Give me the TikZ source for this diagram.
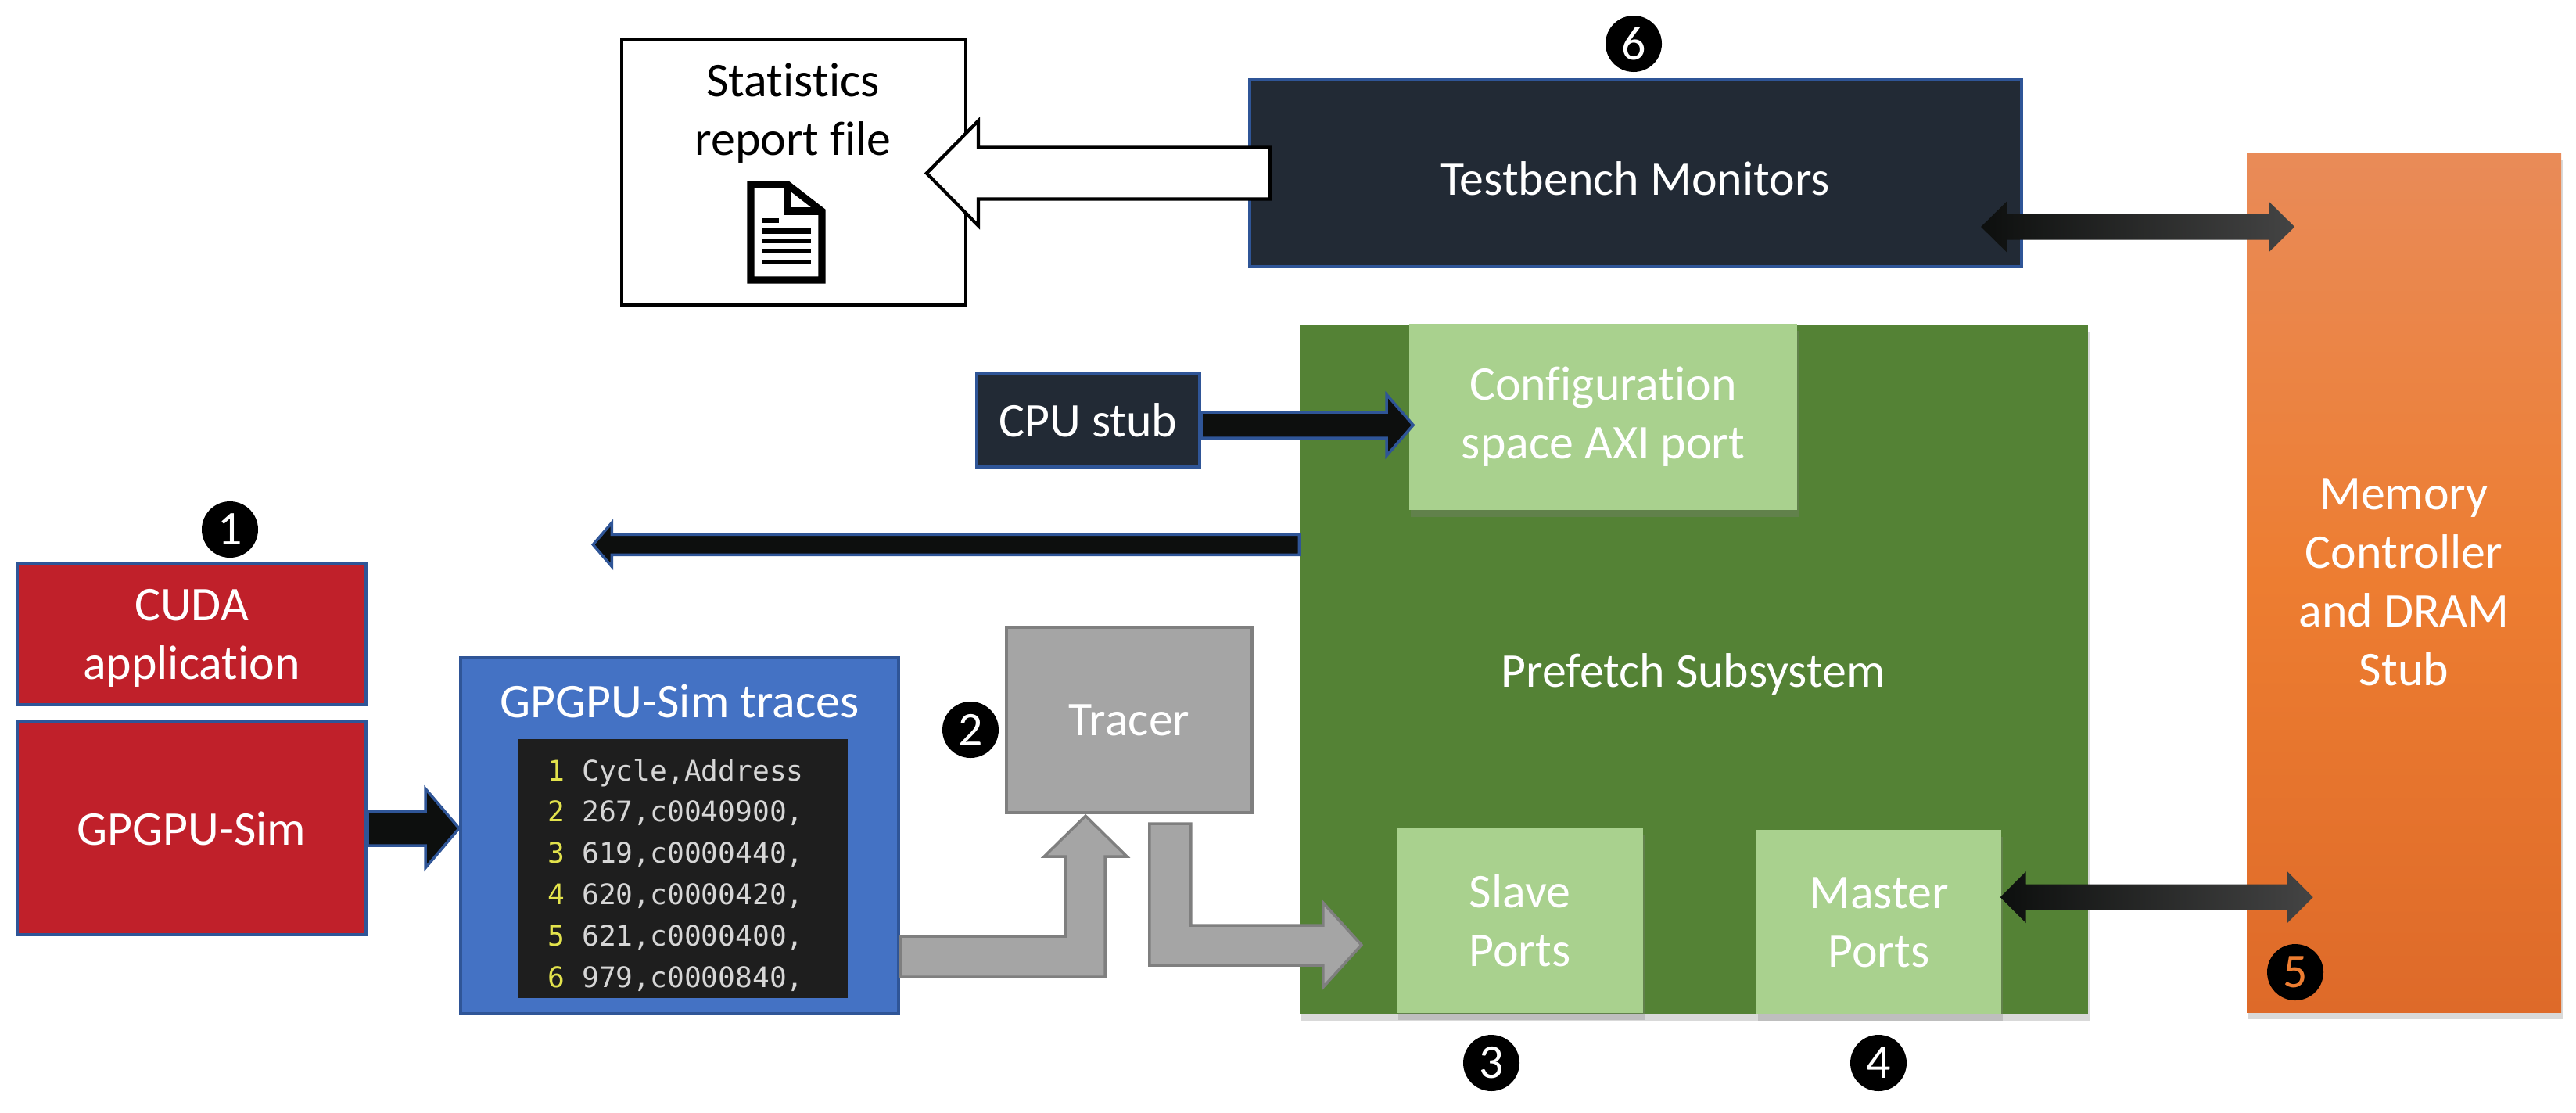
\documentclass[tikz,border=0pt]{standalone}
\usepackage{fontspec}
\setmainfont{Carlito}[Ligatures={NoCommon,NoRequired}]
\newfontfamily\codefont{DejaVu Sans Mono}
\usetikzlibrary{shadows,calc}
\definecolor{edgeblue}{HTML}{2F5597}
\definecolor{navy}{HTML}{222A35}
\definecolor{cudared}{HTML}{C0202A}
\definecolor{traceblue}{HTML}{4472C4}
\definecolor{codebg}{HTML}{1E1E1E}
\definecolor{codenum}{HTML}{E3E34C}
\definecolor{codetxt}{HTML}{D6D6D6}
\definecolor{tracegrey}{HTML}{A5A5A5}
\definecolor{tracegreyline}{HTML}{7F7F7F}
\definecolor{pfgreen}{HTML}{548235}
\definecolor{portgreen}{HTML}{A9D18E}
\definecolor{memtop}{HTML}{E98B58}
\definecolor{memmid}{HTML}{ED7D31}
\definecolor{membot}{HTML}{DE6A29}
\definecolor{arrowblack}{HTML}{0D0F0E}
\definecolor{arrowgrey}{HTML}{444444}
\tikzset{every node/.style={inner sep=0pt, align=center, text=white, font=\fontsize{17.6}{21.4}\selectfont},
         block/.style={draw=edgeblue, line width=1.2pt},
         shadebox/.style={drop shadow={shadow xshift=0.6pt, shadow yshift=-2.5pt, opacity=0.3}},
         port/.style={fill=portgreen, shadebox},
         marker/.style={circle, fill=black, minimum size=0.72cm},
         blackarrow/.style={fill=arrowblack, draw=edgeblue, line width=1pt, line join=miter},
         greyarrow/.style={fill=tracegrey, draw=tracegreyline, line width=1pt, line join=miter},
         busarrow/.style={left color=arrowblack, right color=arrowgrey, draw=none},
         codeline/.style={anchor=base west, text=codetxt, font=\codefont\fontsize{10.3}{12}\selectfont}}

\begin{document}
\begin{tikzpicture}
   \useasboundingbox (0,0) rectangle (32.94,-14.22);
   \begin{scope}
    \node[block, fill=cudared, minimum width=4.46cm, minimum height=1.80cm] (cuda) at (2.45,-8.11) {};
    \node (cudalabel) at (2.45,-8.16) {CUDA\\application};
    \node[block, fill=cudared, minimum width=4.46cm, minimum height=2.72cm] (gpgpu) at (2.45,-10.59) {GPGPU-Sim};
    \node[block, fill=traceblue, minimum width=5.60cm, minimum height=4.55cm] (traces) at (8.69,-10.685) {};
    \node (traceslabel) at (8.69,-8.96) {GPGPU-Sim traces};
    \node[fill=codebg, minimum width=4.22cm, minimum height=3.31cm] (code) at (8.73,-11.105) {};
    \foreach \idx/\entry in {1/{Cycle,Address}, 2/{267,c0040900,}, 3/{619,c0000440,},
                             4/{620,c0000420,}, 5/{621,c0000400,}, 6/{979,c0000840,}}
      \node[codeline] (line\idx) at (7.00,{-9.98-0.528*(\idx-1)}) {{\color{codenum}\idx} \entry};
    \node[draw=tracegreyline, line width=1.2pt, fill=tracegrey, minimum width=3.14cm, minimum height=2.37cm] (tracer) at (14.44,-9.205) {Tracer};
    \node[block, fill=navy, minimum width=2.85cm, minimum height=1.20cm] (cpu) at (13.915,-5.37) {CPU stub};
   \end{scope}
   \begin{scope}
    \node[shadebox, fill=pfgreen, minimum width=10.08cm, minimum height=8.82cm] (prefetch) at (21.66,-8.56) {};
    \node (pflabel) at (21.65,-8.62) {Prefetch Subsystem};
    \node[port, minimum width=4.96cm, minimum height=2.38cm] (config) at (20.50,-5.33) {Configuration\\space AXI port};
    \node[port, minimum width=3.15cm, minimum height=2.37cm] (slave) at (19.435,-11.765) {Slave\\Ports};
    \node[port, minimum width=3.13cm, minimum height=2.36cm] (master) at (24.025,-11.79) {Master\\Ports};
    \node[shadebox, top color=memtop, bottom color=membot, middle color=memmid, minimum width=4.02cm, minimum height=10.99cm] (memory) at (30.74,-7.445) {Memory\\Controller\\and DRAM\\Stub};
    \node[block, fill=navy, minimum width=9.87cm, minimum height=2.39cm] (monitors) at (20.915,-2.215) {};
    \node (tblabel) at (20.91,-2.28) {Testbench Monitors};
    \node[draw=black, line width=1.2pt, fill=white, minimum width=4.40cm, minimum height=3.40cm] (stats) at (10.15,-2.20) {};
    \node[text=black] (statslabel) at (10.14,-1.45) {Statistics\\report file};
   \end{scope}
   \begin{scope}[black, line join=miter]
    \draw[line width=2.6pt] (9.60,-2.36) -- (10.07,-2.36) -- (10.51,-2.70) -- (10.51,-3.58) -- (9.60,-3.58) -- cycle;
    \draw[line width=2.6pt] (10.07,-2.36) -- (10.07,-2.70) -- (10.51,-2.70);
    \draw[line width=0.065cm] (9.75,-2.82) -- (9.96,-2.82);
    \foreach \y in {2.955,3.08,3.21,3.35}
      \draw[line width=0.065cm] (9.75,-\y) -- (10.37,-\y);
   \end{scope}
   \draw[fill=white, draw=black, line width=1.2pt, line join=miter] (monitors.west) ++(0.28,0.33) -- ++(-3.73,0) -- ++(0,0.34) -- ++(-0.66,-0.67)
         -- ++(0.66,-0.67) -- ++(0,0.34) -- ++(3.73,0) -- cycle;
   \draw[blackarrow] (gpgpu.east) ++(0,0.22) -- ++(0.74,0) -- ++(0,0.285) -- ++(0.43,-0.505) -- ++(-0.43,-0.505)
         -- ++(0,0.285) -- ++(-0.74,0) -- cycle;
   \draw[blackarrow] (cpu.east) ++(0,0.10) -- ++(2.37,0) -- ++(0,0.225) -- ++(0.34,-0.39) -- ++(-0.34,-0.39)
         -- ++(0,0.225) -- ++(-2.37,0) -- cycle;
   \draw[blackarrow] (prefetch.north west) ++(0,-2.69) -- ++(-8.79,0) -- ++(0,0.15) -- ++(-0.24,-0.28) -- ++(0.24,-0.28)
         -- ++(0,0.15) -- ++(8.79,0) -- cycle;
   \draw[greyarrow] (traces.south east) ++(0,0.49) -- ++(2.62,0) -- ++(0,1.54) -- ++(0.28,0) -- ++(-0.53,0.52)
         -- ++(-0.53,-0.52) -- ++(0.27,0) -- ++(0,-1.02) -- ++(-2.11,0) -- cycle;
   \draw[greyarrow] (tracer.south west) ++(1.85,-0.12) -- ++(0.53,0) -- ++(0,-1.30) -- ++(1.69,0) -- ++(0,0.29)
         -- ++(0.49,-0.54) -- ++(-0.49,-0.54) -- ++(0,0.28) -- ++(-2.22,0) -- cycle;
   \path[busarrow] ($(monitors.east)+(-0.54,-0.685)$) -- ++(0.33,0.325) -- ++(0,-0.16) -- ++(3.35,0) -- ++(0,0.16)
         -- ++(0.33,-0.325) -- ++(-0.33,-0.325) -- ++(0,0.16) -- ++(-3.35,0) -- ++(0,-0.16) -- cycle;
   \path[busarrow] ($(master.east)+(-0.02,0.32)$) -- ++(0.33,0.33) -- ++(0,-0.165) -- ++(3.34,0) -- ++(0,0.165)
         -- ++(0.33,-0.33) -- ++(-0.33,-0.33) -- ++(0,0.165) -- ++(-3.34,0) -- ++(0,-0.165) -- cycle;
   \begin{scope}
    \node[marker] (m1) at (2.94,-6.77) {1};
    \node[marker] (m2) at (12.41,-9.33) {2};
    \node[marker] (m3) at (19.07,-13.59) {3};
    \node[marker] (m4) at (24.02,-13.59) {4};
    \node[marker, text=memmid] (m5) at (29.35,-12.43) {5};
    \node[marker] (m6) at (20.89,-0.56) {6};
   \end{scope}
\end{tikzpicture}
\end{document}
